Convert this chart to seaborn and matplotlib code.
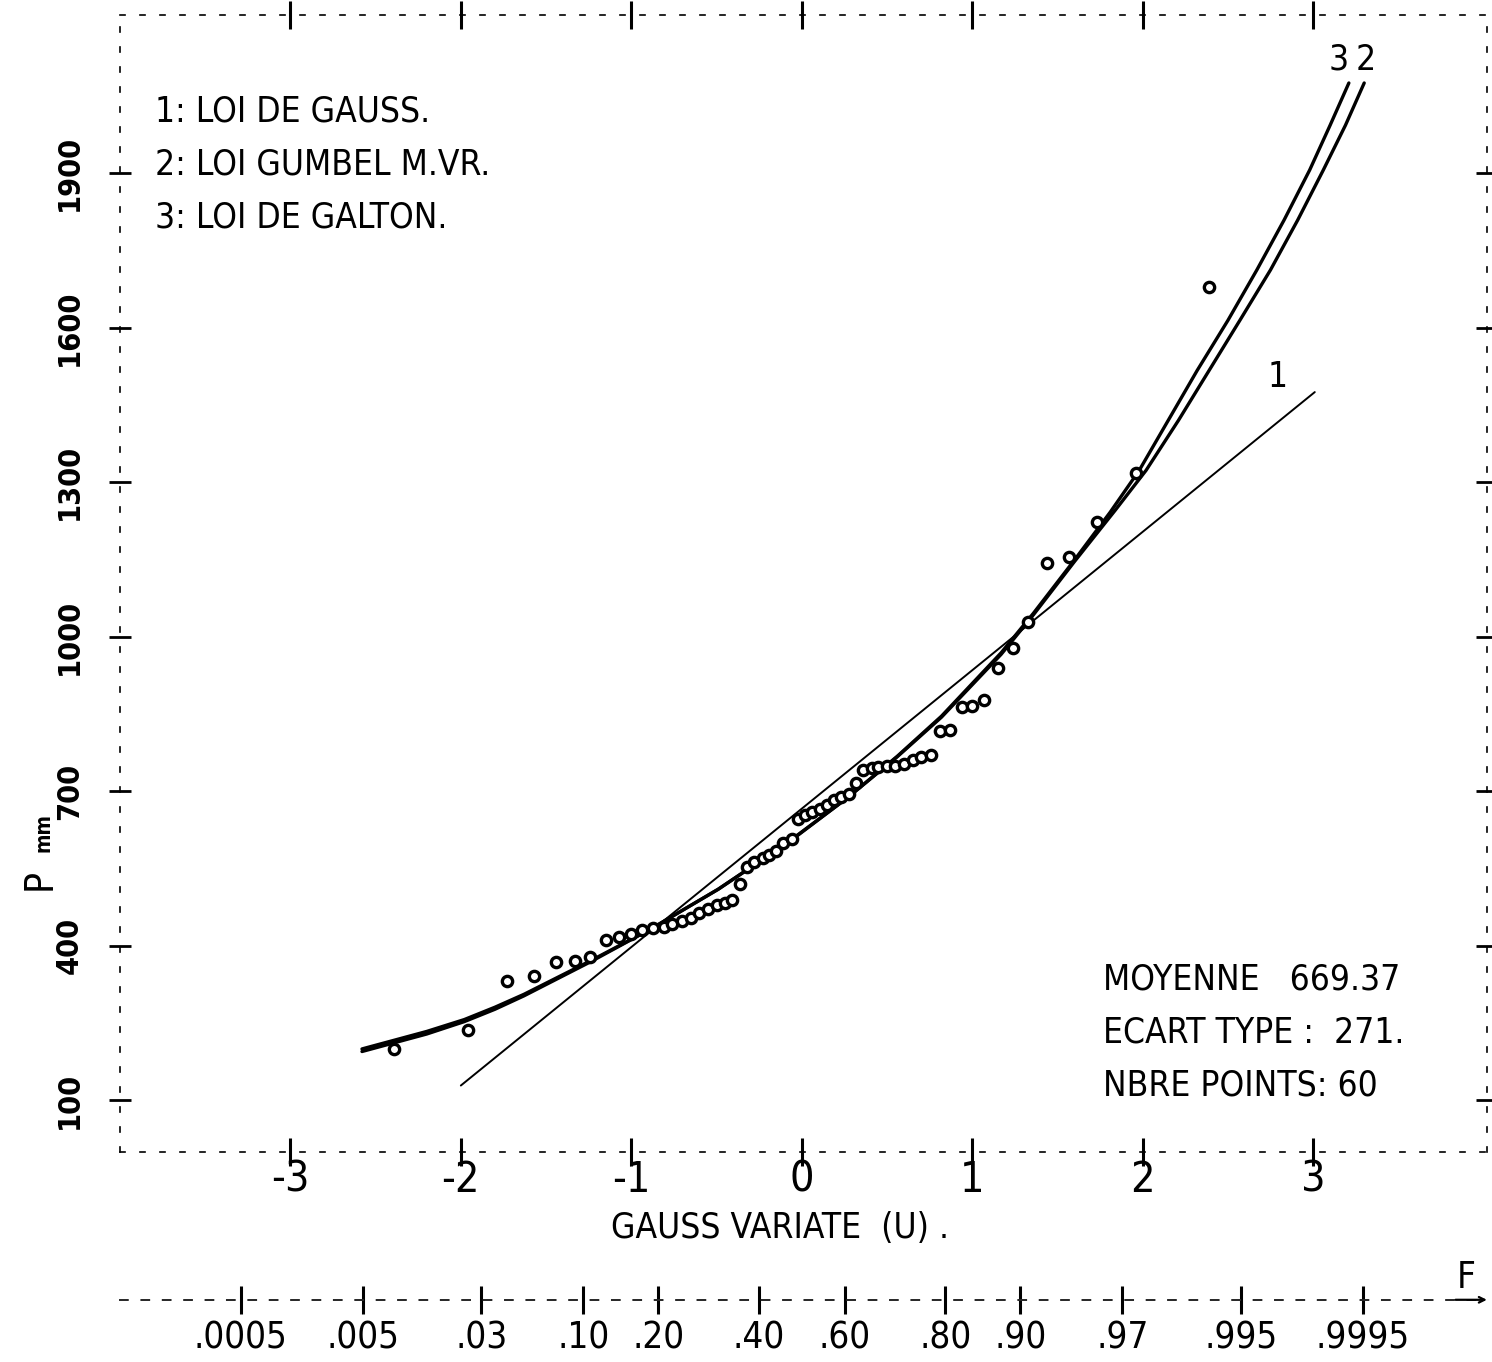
from statistics import NormalDist

import pandas as pd
import matplotlib
matplotlib.use("Agg")
from matplotlib import pyplot as plt
from matplotlib import font_manager
import seaborn as sns

# plotting positions (gauss variate) and observed rainfall, mm
u_obs = [-2.39, -1.96, -1.73, -1.57, -1.44, -1.33, -1.24, -1.15, -1.07, -1.00,
         -0.94, -0.87, -0.81, -0.76, -0.70, -0.65, -0.60, -0.55, -0.50, -0.45,
         -0.41, -0.36, -0.32, -0.28, -0.23, -0.19, -0.15, -0.11, -0.06, -0.02,
         0.02, 0.06, 0.11, 0.15, 0.19, 0.23, 0.28, 0.32, 0.36, 0.41,
         0.45, 0.50, 0.55, 0.60, 0.65, 0.70, 0.76, 0.81, 0.87, 0.94,
         1.00, 1.07, 1.15, 1.24, 1.33, 1.44, 1.57, 1.73, 1.96, 2.39]
p_obs = [199, 236, 331, 341, 368, 370, 378, 411, 418, 424,
         430, 434, 436, 442, 448, 455, 463, 471, 479, 484,
         490, 521, 554, 562, 570, 576, 585, 599, 607, 646,
         655, 659, 665, 673, 683, 690, 694, 717, 741, 745,
         747, 749, 750, 754, 760, 766, 770, 818, 820, 863,
         865, 877, 939, 978, 1028, 1143, 1154, 1222, 1317, 1679]

# fitted laws
gauss_u = [-2.0, 3.01]
gauss_p = [129, 1475]
gumbel_u = [-2.58, -2.20, -1.98, -1.80, -1.63, -1.24, -0.89, -0.49, -0.07, 0.27,
            0.56, 0.82, 1.17, 1.36, 1.60, 1.84, 2.02, 2.21, 2.39, 2.57,
            2.75, 2.91, 3.06, 3.19, 3.30]
gumbel_p = [195, 229, 253, 277, 303, 369, 432, 510, 604, 688,
            767, 844, 966, 1043, 1146, 1246, 1323, 1420, 1517, 1614,
            1712, 1809, 1906, 1993, 2075]
galton_u = [-2.58, -2.20, -1.98, -1.80, -1.63, -1.24, -0.89, -0.49, -0.07, 0.27,
            0.56, 0.82, 1.17, 1.36, 1.60, 1.81, 1.98, 2.15, 2.32, 2.50,
            2.67, 2.83, 2.98, 3.10, 3.21]
galton_p = [200, 234, 257, 281, 306, 371, 432, 510, 603, 688,
            768, 846, 969, 1046, 1149, 1242, 1323, 1420, 1517, 1614,
            1712, 1809, 1906, 1993, 2075]

x_ticks = [-3, -2, -1, 0, 1, 2, 3]
y_ticks = [100, 400, 700, 1000, 1300, 1600, 1900]
f_ticks = [0.0005, 0.005, 0.03, 0.10, 0.20, 0.40, 0.60, 0.80, 0.90, 0.97, 0.995, 0.9995]
f_labels = [".0005", ".005", ".03", ".10", ".20", ".40", ".60", ".80", ".90", ".97", ".995", ".9995"]

legend_lines = ["1: LOI DE GAUSS.", "2: LOI GUMBEL M.VR.", "3: LOI DE GALTON."]
stats_lines = ["MOYENNE   669.37", "ECART TYPE :  271.", "NBRE POINTS: 60"]

sns.set_style("white")
plt.rcParams["font.family"] = ["DejaVu Sans"]
plt.rcParams.update({"text.color": "black", "xtick.color": "black",
                     "ytick.color": "black", "axes.labelcolor": "black"})

# plotter lettering is narrow: use the condensed cut if it is installed
cond_path = font_manager.findfont(
    font_manager.FontProperties(family="DejaVu Sans", stretch="condensed"))
if "Condensed" in cond_path:
    plt.rcParams["font.stretch"] = "condensed"
    k = 1.1
else:
    k = 1.0

fig = plt.figure(figsize=(14.92, 13.62), dpi=100)
ax = fig.add_axes([0.0804, 0.1542, 0.9162, 0.8348])

df_obs = pd.DataFrame({"u": u_obs, "p": p_obs})

sns.lineplot(x=gauss_u, y=gauss_p, ax=ax, color="black", lw=1.4)
sns.lineplot(x=gumbel_u, y=gumbel_p, ax=ax, color="black", lw=2.4,
             sort=False, estimator=None)
sns.lineplot(x=galton_u, y=galton_p, ax=ax, color="black", lw=2.4,
             sort=False, estimator=None)
sns.scatterplot(data=df_obs, x="u", y="p", ax=ax, marker="o", s=55,
                facecolor="white", edgecolor="black", linewidth=2.4, zorder=3)

ax.set_xlim(-4.0, 4.02)
ax.set_ylim(0, 2207)
ax.set_xlabel("")
ax.set_ylabel("")

for sp in ax.spines.values():
    sp.set_visible(True)
    sp.set_color("black")
    sp.set_linewidth(1.2)
    sp.set_linestyle((0, (3, 9)))

ax.set_xticks(x_ticks, labels=[str(t) for t in x_ticks])
ax.set_yticks(y_ticks, labels=[str(t) for t in y_ticks])
ax.tick_params(axis="x", direction="inout", length=20, width=2.2, top=True,
               bottom=True, labelsize=31, pad=-5)
ax.tick_params(axis="y", direction="inout", length=16, width=2, left=True,
               right=True, labelsize=20 * k, pad=18)
for lab in ax.get_yticklabels():
    lab.set_rotation(90)
    lab.set_va("center")
    lab.set_fontweight("bold")

# probability scale F below
f_pos = [NormalDist().inv_cdf(f) for f in f_ticks]
sec = ax.secondary_xaxis(-0.13)
sec.set_xticks(f_pos, labels=f_labels)
sec.spines["bottom"].set_linestyle((0, (4, 7)))
sec.spines["bottom"].set_linewidth(1.4)
sec.tick_params(direction="inout", length=20, width=2.2, labelsize=24 * k, pad=4)
ax.annotate("", xy=(1.002, -0.13), xytext=(0.975, -0.13),
            xycoords="axes fraction", annotation_clip=False,
            arrowprops=dict(arrowstyle="->", lw=1.6, color="black"))
fig.text(0.983, 0.0617, "F", fontsize=24 * k, ha="center", va="center")

# legend and stats blocks
for i, line in enumerate(legend_lines):
    ax.text(0.0256, 0.9147 - i * 0.0466, line, transform=ax.transAxes,
            fontsize=23 * k, ha="left", va="center")
for i, line in enumerate(stats_lines):
    ax.text(0.719, 0.1513 - i * 0.0462, line, transform=ax.transAxes,
            fontsize=23 * k, ha="left", va="center")

# curve labels
ax.text(2.79, 1504, "1", fontsize=23 * k, ha="center", va="center")
ax.text(3.15, 2120, "3", fontsize=23 * k, ha="center", va="center")
ax.text(3.31, 2120, "2", fontsize=23 * k, ha="center", va="center")

# axis titles
fig.text(0.5228, 0.0984, "GAUSS VARIATE  (U) .", fontsize=23 * k,
         ha="center", va="center")
fig.text(0.0268, 0.354, "P", fontsize=28, rotation=90, ha="center", va="center")
fig.text(0.029, 0.389, "mm", fontsize=15, rotation=90, ha="center", va="center",
         fontweight="bold")

fig.savefig("out.png", dpi=100)
